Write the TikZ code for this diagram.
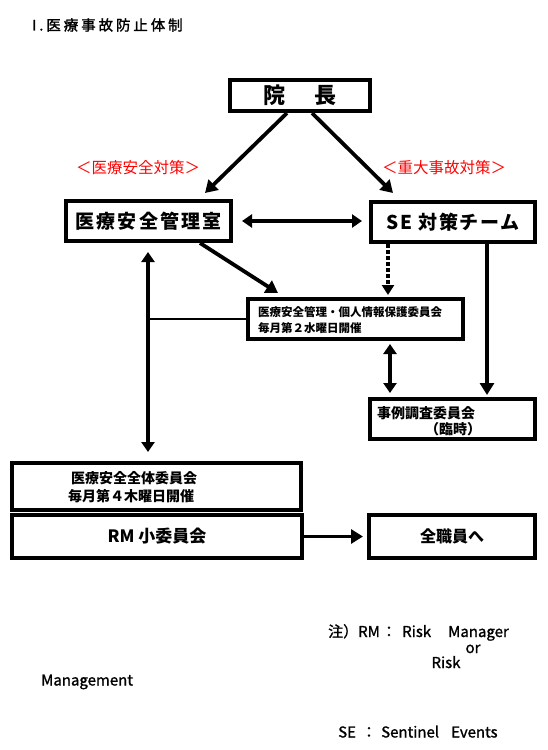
\documentclass[tikz,border=0pt]{standalone}
\usepackage{fontspec}
\setmainfont{Noto Sans CJK JP}
\usetikzlibrary{arrows.meta,calc}
\begin{document}
\begin{tikzpicture}[x=1pt,y=-1pt,
  box/.style={draw,line width=3.6pt,inner sep=0pt,font=\fontsize{17}{20}\selectfont\bfseries},
  arr/.style={line width=3.8pt,-{Triangle[length=12pt,width=14pt]}},
  darr/.style={line width=3.8pt,{Triangle[length=10pt,width=13pt]}-{Triangle[length=10pt,width=13pt]}},
  lbl/.style={inner sep=0pt,anchor=west},
  redlbl/.style={inner sep=0pt,text=red,font=\fontsize{15.5}{17}\selectfont},
  note/.style={inner sep=0pt,anchor=base west,font=\fontsize{15}{17}\selectfont\addfontfeature{FakeBold=1.2}},
  notec/.style={inner sep=0pt,anchor=base,font=\fontsize{15}{17}\selectfont\addfontfeature{FakeBold=1.2}}]
\useasboundingbox (0,0) rectangle (547,750);
\fill[white] (0,0) rectangle (547,750);

\node[lbl,font=\fontsize{14.5}{16}\selectfont\addfontfeature{LetterSpace=20,FakeBold=1.5}] (title) at (32,25) {I.\hspace{3pt}医療事故防止体制};

\node[box,minimum width=140.4pt,minimum height=31.4pt,font=\fontsize{22}{24}\selectfont\bfseries] (inchou) at (300,95.5) {院\hspace{29.5pt}長\hspace{10.5pt}};
\node[box,minimum width=165.4pt,minimum height=40.4pt,font=\fontsize{19}{22}\selectfont\bfseries\addfontfeature{LetterSpace=12}] (kanri) at (148.5,221) {医療安全管理室};
\node[box,minimum width=164.4pt,minimum height=40.4pt,font=\fontsize{19}{22}\selectfont\bfseries\addfontfeature{LetterSpace=8}] (se) at (453,222) {SE 対策チーム\hspace{6pt}};
\node[box,minimum width=215.4pt,minimum height=40.4pt] (iinkai) at (355.5,319) {};
\node[box,minimum width=165.4pt,minimum height=40.4pt] (jirei) at (452.5,419) {};
\node[box,minimum width=289.4pt,minimum height=47.4pt] (zentai) at (156.5,486.5) {};
\node[box,minimum width=290.4pt,minimum height=43.4pt] (rm) at (157,536.5) {RM 小委員会};
\node[box,minimum width=166.4pt,minimum height=43.4pt,font=\fontsize{16}{19}\selectfont\bfseries] (zen) at (452,536.5) {全職員へ};

\node[redlbl] (redL) at (138,168) {＜医療安全対策＞};
\node[redlbl] (redR) at (444,168) {＜重大事故対策＞};

\node[lbl,font=\fontsize{11.5}{13}\selectfont\bfseries] (iin1) at (258,312) {医療安全管理・個人情報保護委員会};
\node[lbl,font=\fontsize{11.5}{13}\selectfont\bfseries] (iin2) at (258,328) {毎月第２水曜日開催};
\node[lbl,font=\fontsize{14}{16}\selectfont\bfseries] (jir1) at (377,413) {事例調査委員会};
\node[lbl,font=\fontsize{14}{16}\selectfont\bfseries] (jir2) at (425,429) {（臨時）};
\node[lbl,font=\fontsize{14}{16}\selectfont\bfseries] (zen1) at (71,478) {医療安全全体委員会};
\node[lbl,font=\fontsize{14}{16}\selectfont\bfseries] (zen2) at (68,496) {毎月第４木曜日開催};

\node[note] (n1a) at (328,637) {注）RM};
\node[notec] (n1b) at (389,637) {：};
\node[note] (n1c) at (402,637) {Risk};
\node[note] (n1d) at (448,637) {Manager};
\node[notec] (n2) at (473,653) {or};
\node[notec] (n3) at (446,668) {Risk};
\node[note] (n4) at (41,685.5) {Management};
\node[note] (n5a) at (338,737.5) {SE};
\node[notec] (n5b) at (369,737.5) {：};
\node[note] (n5c) at (381,737.5) {Sentinel};
\node[note] (n5d) at (451,737.5) {Events};

% connectors
\draw[arr] ($(inchou.south)+(-13,0)$) -- ($(kanri.north)+(56.5,-6)$);
\draw[arr] ($(inchou.south)+(12,0)$) -- ($(se.north)+(-60,-7)$);
\draw[darr] ($(kanri.east)+(9,0)$) -- ($(se.west|-kanri.east)+(-7,0)$);
\draw[arr] ($(kanri.south)+(51.5,0)$) -- ($(iinkai.north west)+(32,-4)$);
\coordinate (dtop) at ($(se.south)+(-65,0)$);
\draw[line width=3.8pt,dash pattern=on 3.5pt off 2.5pt,-{Triangle[length=10pt,width=12pt]}] (dtop) -- ($(dtop|-iinkai.north)+(0,-2)$);
\coordinate (stop) at ($(se.south)+(34,0)$);
\draw[arr] (stop) -- ($(stop|-jirei.north)+(0,-2)$);
\coordinate (vtop) at ($(kanri.south)+(-0.5,9)$);
\draw[darr] (vtop) -- ($(vtop|-zentai.north)+(0,-9)$);
\coordinate (vmid) at (vtop|-iinkai.west);
\draw[line width=2.4pt] (vmid) -- (iinkai.west);
\coordinate (btop) at ($(iinkai.south)+(34.5,3)$);
\draw[darr] (btop) -- ($(btop|-jirei.north)+(0,-4)$);
\draw[arr] (rm.east) -- ($(zen.west|-rm.east)+(-4,0)$);
\end{tikzpicture}
\end{document}
